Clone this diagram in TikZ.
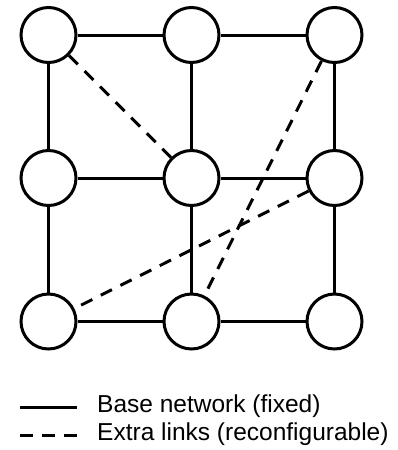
\documentclass[tikz,border=0pt]{standalone}
\usepackage{fontspec}
\setmainfont{Liberation Sans}
\begin{document}
\begin{tikzpicture}[x=1pt,y=-1pt,
  vertex/.style={circle,draw=black,fill=white,line width=3pt,minimum size=55pt,inner sep=0pt},
  base/.style={line width=3pt,black},
  extra/.style={line width=3pt,black,dash pattern=on 12.5pt off 9.5pt},
  legtext/.style={anchor=base west,inner sep=0pt,font=\fontsize{24.5}{28}\selectfont}]
\useasboundingbox (0,0) rectangle (397,450);
\coordinate (c00) at (48.5,35);
\coordinate (c10) at (191.5,35);
\coordinate (c20) at (334.5,35);
\coordinate (c01) at (48.5,178);
\coordinate (c11) at (191.5,178);
\coordinate (c21) at (334.5,178);
\coordinate (c02) at (48.5,321.5);
\coordinate (c12) at (191.5,321.5);
\coordinate (c22) at (334.5,321.5);
\foreach \i in {0,1,2}{\foreach \j in {0,1,2}{
  \node[vertex] (n\i\j) at (c\i\j) {};
}}
% base network
\draw[base] (n00) -- (n10);
\draw[base] (n10) -- (n20);
\draw[base] (n01) -- (n11);
\draw[base] (n11) -- (n21);
\draw[base] (n02) -- (n12);
\draw[base] (n12) -- (n22);
\draw[base] (n00) -- (n01);
\draw[base] (n01) -- (n02);
\draw[base] (n10) -- (n11);
\draw[base] (n11) -- (n12);
\draw[base] (n20) -- (n21);
\draw[base] (n21) -- (n22);
% extra links
\draw[extra] (n00) -- (n11);
\draw[extra] (n20) -- (n12);
\draw[extra] (n21) -- (n02);
% legend
\coordinate (la1) at (20,407);
\coordinate (la2) at (77,407);
\coordinate (lb1) at (20,435.5);
\coordinate (lb2) at (77,435.5);
\draw[base] (la1) -- (la2);
\draw[extra,dash pattern=on 12.7pt off 9.5pt] (lb1) -- (lb2);
\node[legtext] (ta) at (97,412) {Base network (fixed)};
\node[legtext] (tb) at (97,440) {Extra links (reconfigurable)};
\end{tikzpicture}
\end{document}
